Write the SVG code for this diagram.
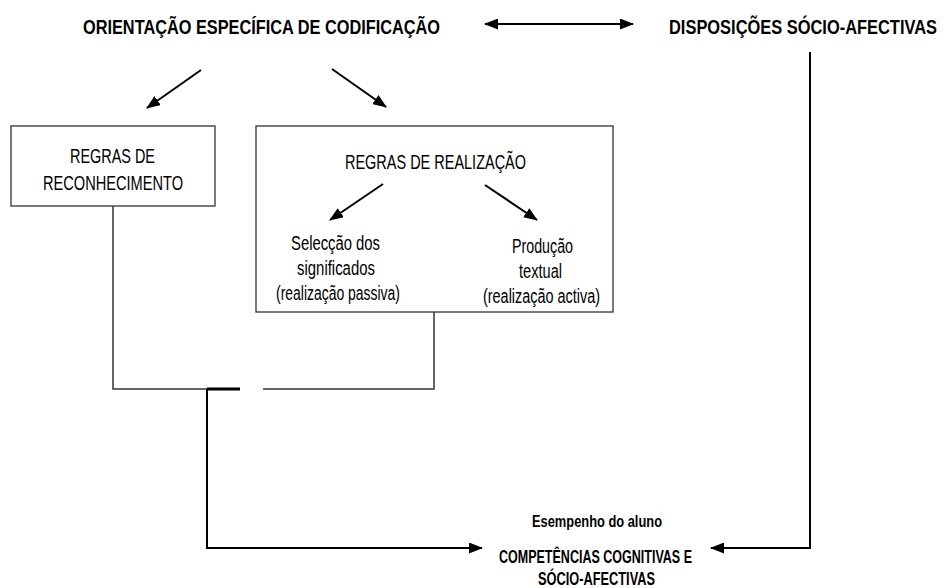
<svg xmlns="http://www.w3.org/2000/svg" width="946" height="588" viewBox="0 0 946 588">
<defs>
<marker id="ah" viewBox="0 0 14 11" refX="13" refY="5.5" markerWidth="14" markerHeight="11" markerUnits="userSpaceOnUse" orient="auto-start-reverse">
<path d="M0,0 L14,5.5 L0,11 z" fill="#000"/>
</marker>
<style>
.t{font-family:"Liberation Sans",Arial,sans-serif;fill:#000;}
.b{font-weight:bold;}
.box{fill:#fff;stroke:#333;stroke-width:1.3;}
.c{fill:none;stroke:#000;stroke-width:2;}
.thin{fill:none;stroke:#333;stroke-width:1.5;}
</style>
</defs>
<rect width="946" height="588" fill="#fff"/>

<g id="orientacao">
<text class="t b" x="83" y="34" font-size="21" textLength="357" lengthAdjust="spacingAndGlyphs">ORIENTAÇÃO ESPECÍFICA DE CODIFICAÇÃO</text>
</g>
<g id="disposicoes">
<text class="t b" transform="translate(669,34) scale(0.8,1)" x="0" y="0" font-size="21" textLength="335" lengthAdjust="spacingAndGlyphs">DISPOSIÇÕES SÓCIO-AFECTIVAS</text>
</g>

<g id="reconhecimento">
<rect class="box" x="11" y="126" width="204" height="80"/>
<text class="t" x="70" y="163" font-size="21" textLength="85" lengthAdjust="spacingAndGlyphs">REGRAS DE</text>
<text class="t" x="43" y="190" font-size="21" textLength="140" lengthAdjust="spacingAndGlyphs">RECONHECIMENTO</text>
</g>

<g id="realizacao">
<rect class="box" x="256" y="126" width="357" height="186"/>
<text class="t" x="345" y="169" font-size="21" textLength="181" lengthAdjust="spacingAndGlyphs">REGRAS DE REALIZAÇÃO</text>
</g>

<g id="seleccao">
<text class="t" x="291" y="250" font-size="20" textLength="89" lengthAdjust="spacingAndGlyphs">Selecção dos</text>
<text class="t" x="297" y="275" font-size="20" textLength="78" lengthAdjust="spacingAndGlyphs">significados</text>
<text class="t" x="276" y="300" font-size="20" textLength="124" lengthAdjust="spacingAndGlyphs">(realização passiva)</text>
</g>

<g id="producao">
<text class="t" x="512" y="253" font-size="20" textLength="61" lengthAdjust="spacingAndGlyphs">Produção</text>
<text class="t" x="519" y="278" font-size="20" textLength="43" lengthAdjust="spacingAndGlyphs">textual</text>
<text class="t" x="483" y="303" font-size="20" textLength="117" lengthAdjust="spacingAndGlyphs">(realização activa)</text>
</g>

<g id="desempenho">
<text class="t b" x="532" y="527" font-size="17" textLength="130" lengthAdjust="spacingAndGlyphs">Esempenho do aluno</text>
<text class="t b" x="499" y="563" font-size="19" textLength="193" lengthAdjust="spacingAndGlyphs">COMPETÊNCIAS COGNITIVAS E</text>
<text class="t b" x="538" y="585" font-size="19" textLength="117" lengthAdjust="spacingAndGlyphs">SÓCIO-AFECTIVAS</text>
</g>

<g id="connectors">
<line class="c" x1="485" y1="24" x2="633" y2="24" marker-start="url(#ah)" marker-end="url(#ah)"/>
<line class="c" x1="201" y1="70" x2="147" y2="108" marker-end="url(#ah)"/>
<line class="c" x1="332" y1="69" x2="386" y2="107" marker-end="url(#ah)"/>
<line class="c" x1="383" y1="184" x2="330" y2="220" marker-end="url(#ah)"/>
<line class="c" x1="485" y1="185" x2="537" y2="220" marker-end="url(#ah)"/>
<polyline class="thin" points="113,206 113,389 240,389"/>
<polyline class="thin" points="263,389 434,389 434,312"/>
<line x1="207" y1="389" x2="240" y2="389" stroke="#000" stroke-width="3"/>
<polyline class="c" points="207,389 207,548 482,548" marker-end="url(#ah)"/>
<polyline class="c" points="810,52 810,548 711,548" marker-end="url(#ah)"/>
</g>
</svg>
